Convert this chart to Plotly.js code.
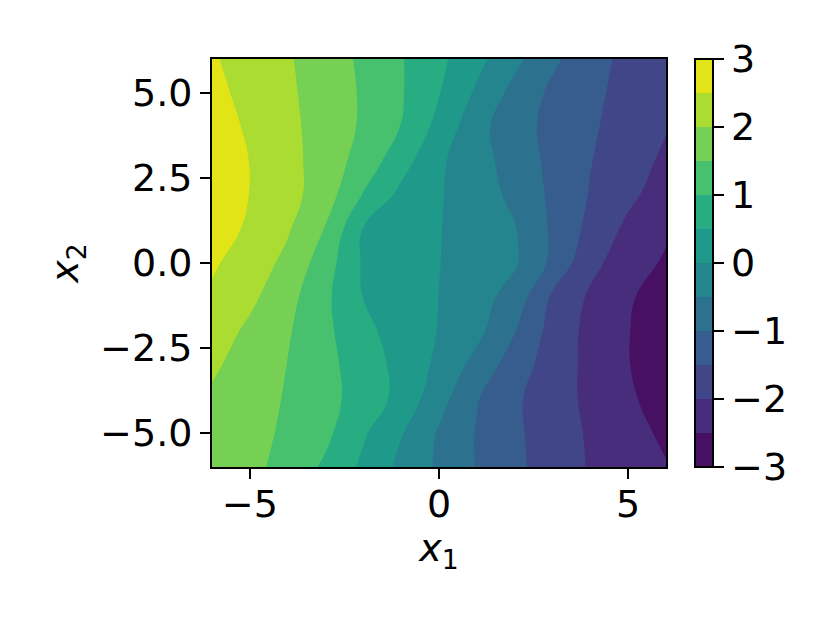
<!DOCTYPE html>
<html>
<head>
<meta charset="utf-8">
<script src="https://cdn.plot.ly/plotly-3.0.1.min.js"></script>
<style>
  html, body { margin: 0; padding: 0; background: #ffffff; }
  #chart { width: 830px; height: 623px; }
</style>
</head>
<body>
<div id="chart"></div>
<script>
// grid coordinates (x1 along columns, x2 along rows)
const x1Values = [-6, -5, -4, -3, -2, -1, 0, 1, 2, 3, 4, 5, 6];
const x2Values = [-6, -5, -4, -3, -2, -1, 0, 1, 2, 3, 4, 5, 6];

// z values, one row per x2 value (x1 = -6 .. 6)
const zRowYm6 = [1.85, 1.65, 1.30, 0.92, 0.40, -0.12, -0.58, -1.02, -1.39, -1.73, -2.04, -2.34, -2.47];
const zRowYm5 = [1.88, 1.69, 1.40, 1.11, 0.56, 0.03, -0.55, -1.03, -1.41, -1.75, -2.06, -2.33, -2.59];
const zRowYm4 = [1.92, 1.74, 1.45, 1.15, 0.80, 0.34, -0.32, -0.97, -1.42, -1.78, -2.11, -2.42, -2.73];
const zRowYm3 = [2.08, 1.78, 1.49, 1.14, 0.76, 0.34, -0.11, -0.67, -1.25, -1.74, -2.13, -2.48, -2.82];
const zRowYm2 = [2.26, 1.90, 1.55, 1.11, 0.63, 0.28, -0.02, -0.36, -0.98, -1.68, -2.14, -2.48, -2.82];
const zRowYm1 = [2.42, 2.11, 1.67, 1.10, 0.49, 0.24, -0.005, -0.30, -0.70, -1.58, -2.07, -2.43, -2.78];
const zRowY0  = [2.57, 2.25, 1.88, 1.23, 0.44, 0.22, 0.01, -0.22, -0.44, -1.11, -1.87, -2.25, -2.57];
const zRowY1  = [2.78, 2.41, 2.05, 1.47, 0.48, 0.25, 0.02, -0.23, -0.47, -1.08, -1.64, -2.11, -2.42];
const zRowY2  = [2.82, 2.49, 2.18, 1.73, 0.97, 0.37, 0.04, -0.27, -0.61, -1.10, -1.53, -1.89, -2.24];
const zRowY3  = [2.84, 2.49, 2.16, 1.77, 1.30, 0.70, 0.08, -0.31, -0.71, -1.13, -1.48, -1.79, -2.09];
const zRowY4  = [2.73, 2.43, 2.12, 1.79, 1.43, 0.99, 0.34, -0.33, -0.80, -1.14, -1.43, -1.72, -1.97];
const zRowY5  = [2.63, 2.36, 2.08, 1.78, 1.44, 1.04, 0.52, -0.08, -0.66, -1.10, -1.38, -1.67, -1.93];
const zRowY6  = [2.55, 2.30, 2.05, 1.74, 1.41, 1.03, 0.61, 0.15, -0.37, -0.91, -1.29, -1.65, -1.95];

// contour levels and band colours (viridis at band midpoints)
const levelStart = -3, levelEnd = 3, levelStep = 0.5;
const bandColors = ['#471063', '#472D7B', '#404688', '#365D8D', '#2C728E', '#25858E',
                    '#1F9A8A', '#27AD81', '#48C16E', '#75D054', '#AADC32', '#E2E418'];

// tick values / labels
const xTickVals = [-5, 0, 5];
const xTickText = ['\u22125', '0', '5'];
const yTickVals = [-5, -2.5, 0, 2.5, 5];
const yTickText = ['\u22125.0', '\u22122.5', '0.0', '2.5', '5.0'];
const cbTickVals = [-3, -2, -1, 0, 1, 2, 3];
const cbTickText = ['\u22123', '\u22122', '\u22121', '0', '1', '2', '3'];

const zGrid = [zRowYm6, zRowYm5, zRowYm4, zRowYm3, zRowYm2, zRowYm1, zRowY0,
               zRowY1, zRowY2, zRowY3, zRowY4, zRowY5, zRowY6];

// stepped colour scale (robust to how the band colour is sampled)
const n = bandColors.length + 1;
const colorscale = [];
bandColors.forEach((c, i) => {
  const a = i === 0 ? 0 : (i + 0.5) / n;
  const b = i === bandColors.length - 1 ? 1 : (i + 1.5) / n;
  colorscale.push([a, c]);
  colorscale.push([b, c]);
});

const FONT = 'DejaVu Sans, Liberation Sans, sans-serif';
const FS = 38;

const trace = {
  type: 'contour',
  x: x1Values,
  y: x2Values,
  z: zGrid,
  zauto: false,
  zmin: levelStart,
  zmax: levelEnd,
  autocontour: false,
  contours: { start: levelStart, end: levelEnd, size: levelStep, coloring: 'fill', showlines: false },
  line: { width: 0, smoothing: 1.3 },
  colorscale: colorscale,
  hoverinfo: 'skip',
  colorbar: {
    x: (695 - 212) / 454, xanchor: 'left', xref: 'paper',
    y: 0.5, yanchor: 'middle',
    lenmode: 'pixels', len: 408,
    thickness: 18, thicknessmode: 'pixels',
    xpad: 0, ypad: 0,
    outlinewidth: 2, outlinecolor: '#000',
    tickmode: 'array', tickvals: cbTickVals, ticktext: cbTickText,
    ticks: 'outside', ticklen: 10, tickwidth: 2, tickcolor: '#000',
    tickfont: { family: FONT, size: FS, color: '#000' }
  }
};

const axisCommon = {
  range: [-6, 6],
  showgrid: false, zeroline: false,
  showline: true, mirror: true, linecolor: '#000', linewidth: 2,
  ticks: 'outside', ticklen: 10, tickwidth: 2, tickcolor: '#000',
  tickfont: { family: FONT, size: FS, color: '#000' },
  tickmode: 'array'
};

const layout = {
  width: 830, height: 623,
  margin: { l: 212, r: 164, t: 59, b: 156, pad: 0 },
  paper_bgcolor: '#fff', plot_bgcolor: '#fff',
  font: { family: FONT, size: FS, color: '#000' },
  showlegend: false,
  xaxis: Object.assign({}, axisCommon, {
    tickvals: xTickVals, ticktext: xTickText,
    ticklabelstandoff: -8,
    title: { text: '<i>x</i><sub>1</sub>', font: { family: FONT, size: FS }, standoff: 6 }
  }),
  yaxis: Object.assign({}, axisCommon, {
    tickvals: yTickVals, ticktext: yTickText,
    title: { text: '<i>x</i><sub>2</sub>', font: { family: FONT, size: FS }, standoff: 10 }
  })
};

Plotly.newPlot('chart', [trace], layout, { staticPlot: true, displayModeBar: false });
</script>
</body>
</html>
